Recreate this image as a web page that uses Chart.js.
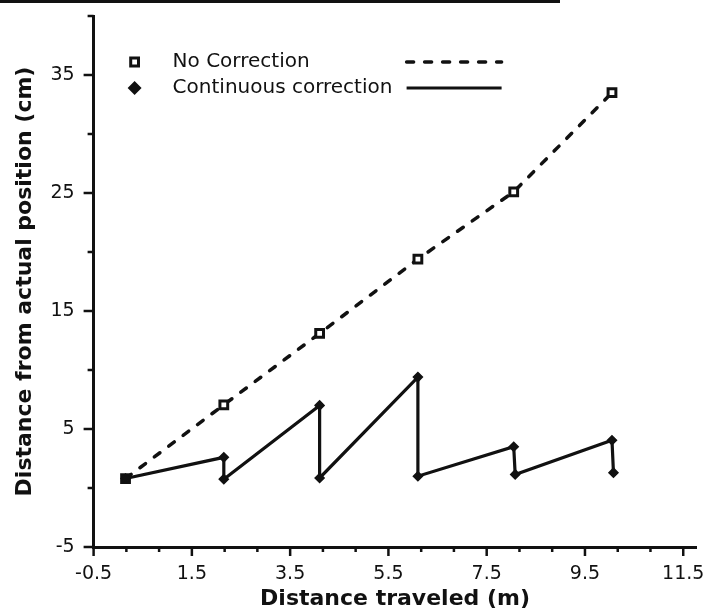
<!DOCTYPE html>
<html>
<head>
<meta charset="utf-8">
<script src="https://cdn.jsdelivr.net/npm/chart.js@4"></script>
<style>
  html, body { margin: 0; padding: 0; background: #fff; }
  #wrap { width: 705px; height: 612px; }
</style>
</head>
<body>
<div id="wrap"><canvas id="chart" width="705" height="612"></canvas></div>
<script>
// values
const noCorrX = [0.15, 2.15, 4.1, 6.1, 8.05, 10.05];
const noCorrY = [0.8, 7.05, 13.1, 19.4, 25.1, 33.5];

// sawtooth: error grows, then is corrected back down at each stop
const contX = [0.15, 2.15, 2.15, 4.1, 4.1, 6.1, 6.1, 8.05, 8.08, 10.05, 10.08];
const contY = [0.8, 2.6, 0.75, 7.0, 0.85, 9.4, 1.0, 3.5, 1.15, 4.05, 1.3];

const xTickLabels = [-0.5, 1.5, 3.5, 5.5, 7.5, 9.5, 11.5];
const xMinorTicks = [0.167, 0.833, 2.167, 2.833, 4.167, 4.833, 6.167, 6.833, 8.167, 8.833, 10.167, 10.833];
const yTickLabels = [-5, 5, 15, 25, 35];
const yMinorTicks = [0, 10, 20, 30, 40];

const FONT = "'DejaVu Sans', sans-serif";
const INK = "#111";

const toPoints = (xs, ys) => xs.map((x, i) => ({ x: x, y: ys[i] }));

// tick marks drawn outward from the axes, long ones at labels
const axisTicks = {
  id: "axisTicks",
  afterDraw(chart) {
    const { ctx, chartArea, scales } = chart;
    ctx.save();
    ctx.strokeStyle = INK;
    ctx.lineWidth = 2.5;
    const xs = scales.x, ys = scales.y;
    const mark = (x1, y1, x2, y2) => {
      ctx.beginPath();
      ctx.moveTo(x1, y1);
      ctx.lineTo(x2, y2);
      ctx.stroke();
    };
    xTickLabels.forEach(v => {
      const px = xs.getPixelForValue(v);
      mark(px, chartArea.bottom, px, chartArea.bottom + 9);
    });
    xMinorTicks.forEach(v => {
      const px = xs.getPixelForValue(v);
      mark(px, chartArea.bottom, px, chartArea.bottom + 5);
    });
    yTickLabels.forEach(v => {
      const py = ys.getPixelForValue(v);
      mark(chartArea.left, py, chartArea.left - 10, py);
    });
    yMinorTicks.forEach(v => {
      const py = ys.getPixelForValue(v);
      mark(chartArea.left, py, chartArea.left - 6, py);
    });
    // dark edge of the scanned page
    ctx.lineWidth = 3;
    mark(0, 1.5, 560, 1.5);
    ctx.restore();
  }
};

// legend sits inside the plot, marker - label - line sample
const insideLegend = {
  id: "insideLegend",
  afterDraw(chart) {
    const { ctx, chartArea } = chart;
    ctx.save();
    ctx.font = "20px " + FONT;
    ctx.fillStyle = INK;
    ctx.textBaseline = "middle";
    chart.data.datasets.forEach((ds, i) => {
      const y = chartArea.top + 46 + i * 26;
      Chart.helpers.drawPoint(ctx, {
        pointStyle: ds.pointStyle,
        radius: ds.pointRadius,
        borderWidth: ds.pointBorderWidth,
        rotation: 0
      }, chartArea.left + 41, y);
      ctx.fillStyle = ds.pointBackgroundColor;
      ctx.strokeStyle = ds.pointBorderColor;
      ctx.lineWidth = ds.pointBorderWidth;
      ctx.fill();
      ctx.stroke();
      ctx.fillStyle = INK;
      ctx.fillText(ds.label, chartArea.left + 79, y);
      ctx.beginPath();
      ctx.setLineDash(ds.borderDash || []);
      ctx.lineCap = ds.borderCapStyle || "butt";
      ctx.lineWidth = ds.borderWidth;
      ctx.strokeStyle = ds.borderColor;
      ctx.moveTo(chartArea.left + 313, y);
      ctx.lineTo(chartArea.left + 408, y);
      ctx.stroke();
      ctx.setLineDash([]);
    });
    ctx.restore();
  }
};

new Chart(document.getElementById("chart"), {
  type: "scatter",
  data: {
    datasets: [
      {
        label: "No Correction",
        data: toPoints(noCorrX, noCorrY),
        showLine: true,
        borderColor: INK,
        borderWidth: 3.5,
        borderDash: [7, 11],
        borderCapStyle: "round",
        pointStyle: "rect",
        pointRadius: 5.5,
        pointBorderWidth: 3,
        pointBackgroundColor: "#fff",
        pointBorderColor: INK,
        order: 2
      },
      {
        label: "Continuous correction",
        data: toPoints(contX, contY),
        showLine: true,
        borderColor: INK,
        borderWidth: 3.2,
        pointStyle: "rectRot",
        pointRadius: 4.5,
        pointBorderWidth: 1.5,
        pointBackgroundColor: INK,
        pointBorderColor: INK,
        order: 1
      }
    ]
  },
  options: {
    responsive: false,
    devicePixelRatio: 1,
    animation: false,
    layout: { padding: { top: 16, right: 0, left: 0, bottom: 0 } },
    plugins: {
      legend: { display: false },
      tooltip: { enabled: false }
    },
    scales: {
      x: {
        type: "linear",
        min: -0.5,
        max: 11.77,
        afterBuildTicks: s => { s.ticks = xTickLabels.map(v => ({ value: v })); },
        afterFit: s => {
          s.height = 65;
          s.paddingLeft = 0;
          s.paddingRight = 0;
        },
        grid: { display: false, drawTicks: false },
        border: { display: true, color: INK, width: 3 },
        ticks: {
          autoSkip: false,
          maxRotation: 0,
          padding: 16,
          color: INK,
          font: { family: FONT, size: 19 },
          callback: v => v.toFixed(1)
        },
        title: {
          display: true,
          text: "Distance traveled (m)",
          color: INK,
          font: { family: FONT, size: 22, weight: "bold" },
          padding: { top: 3, bottom: 0 }
        }
      },
      y: {
        type: "linear",
        min: -5,
        max: 40,
        afterBuildTicks: s => { s.ticks = yTickLabels.map(v => ({ value: v })); },
        afterFit: s => {
          s.width = 93.6;
          s.paddingTop = 0;
          s.paddingBottom = 0;
        },
        grid: { display: false, drawTicks: false },
        border: { display: true, color: INK, width: 3 },
        ticks: {
          autoSkip: false,
          padding: 19,
          color: INK,
          font: { family: FONT, size: 19 },
          callback: v => String(v)
        },
        title: {
          display: true,
          text: "Distance from actual position (cm)",
          color: INK,
          font: { family: FONT, size: 22, weight: "bold" },
          padding: { top: 12, bottom: 0 }
        }
      }
    }
  },
  plugins: [axisTicks, insideLegend]
});
</script>
</body>
</html>
